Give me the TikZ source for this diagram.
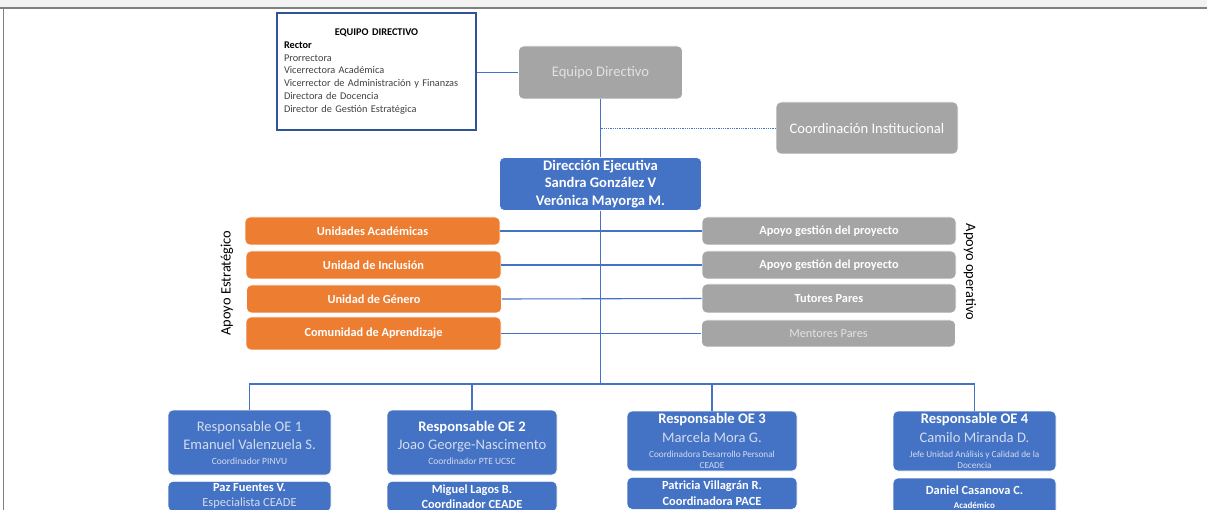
\documentclass[tikz,border=0pt]{standalone}
\usepackage{fontspec}
\setmainfont{Carlito}
\definecolor{bluebox}{HTML}{4472C4}
\definecolor{orangebox}{HTML}{ED7D31}
\definecolor{graybox}{HTML}{A5A5A5}
\definecolor{bandgray}{HTML}{F2F2F2}
\definecolor{framegray}{HTML}{808080}
\definecolor{edgeblue}{HTML}{2F5597}
\definecolor{lighttext}{HTML}{D3DCEE}
\definecolor{palegray}{HTML}{E2E2E2}
\definecolor{bodytext}{HTML}{404040}
\begin{document}
\begin{tikzpicture}[x=1pt,y=-1pt,
  box/.style={rounded corners=5pt, draw=white, line width=0.6pt, align=center, inner sep=1pt, text=white},
  bluenode/.style={box, fill=bluebox},
  orangenode/.style={box, fill=orangebox, font=\bfseries\fontsize{12.3}{14}\selectfont, minimum width=255pt},
  graynode/.style={box, fill=graybox},
  sidegray/.style={graynode, font=\bfseries\fontsize{12.3}{14}\selectfont, minimum width=254pt},
  conn/.style={draw=bluebox, line width=1.1pt},
  sidelabel/.style={font=\fontsize{14.4}{16}\selectfont, text=black}
]
\useasboundingbox (0,0) rectangle (1207,510);
\clip (0,0) rectangle (1207,510);
\fill[bandgray] (0,0) rectangle (1207,8);
\draw[framegray, line width=2pt] (0,8.5) -- (1207,8.5);
\draw[framegray, line width=1.5pt] (3.5,9.5) -- (3.5,510);

% Equipo directivo list box
\node[draw=edgeblue, line width=1.2pt, minimum width=199pt, minimum height=117pt,
      text width=185pt, align=left, inner sep=0pt, text=bodytext,
      font=\fontsize{10.3}{12.8}\selectfont] (eqbox) at (376.5,71.5)
  {\makebox[185pt][c]{\textcolor{black}{\bfseries EQUIPO DIRECTIVO}}\\
   \textcolor{black}{\bfseries Rector}\\
   Prorrectora\\
   Vicerrectora Académica\\
   Vicerrector de Administración y Finanzas\\
   Directora de Docencia\\
   Director de Gestión Estratégica};

% top nodes
\node[graynode, text=palegray, minimum width=164pt, minimum height=53pt,
      font=\fontsize{14.6}{17}\selectfont] (ed) at (600.5,72.5) {Equipo Directivo};
\node[graynode, minimum width=182pt, minimum height=52pt,
      font=\fontsize{14.6}{17}\selectfont] (ci) at (867,128) {Coordinación Institucional};
\node[bluenode, minimum width=202pt, minimum height=53pt,
      font=\bfseries\fontsize{14.6}{17.5}\selectfont] (dir) at (600.5,184)
  {Dirección Ejecutiva\\Sandra González V\\Verónica Mayorga M.};

% strategic support
\node[orangenode, minimum height=28pt] (ua) at (372.5,231) {Unidades Académicas};
\node[orangenode, minimum height=28pt] (ui) at (373.5,265) {Unidad de Inclusión};
\node[orangenode, minimum height=28pt] (ug) at (374,299) {Unidad de Género};
\node[orangenode, minimum height=33pt] (ca) at (373.5,333.5) {Comunidad de Aprendizaje};

% operative support
\node[sidegray, minimum height=28pt] (ag1) at (829,231) {Apoyo gestión del proyecto};
\node[sidegray, minimum height=28pt] (ag2) at (829,265) {Apoyo gestión del proyecto};
\node[sidegray, minimum height=29pt] (tp) at (829,298.5) {Tutores Pares};
\node[graynode, text=palegray, minimum width=254pt, minimum height=27pt,
      font=\fontsize{12.3}{14}\selectfont] (mp) at (828.5,333.5) {Mentores Pares};

\node[sidelabel, rotate=90] (lblE) at (227,283) {Apoyo Estratégico};
\node[sidelabel, rotate=-90] (lblO) at (970,272) {Apoyo operativo};

% responsables
\node[bluenode, minimum width=163pt, minimum height=65pt,
      font=\fontsize{14.6}{18}\selectfont] (oe1) at (249.5,442.5)
  {\textcolor{lighttext}{Responsable OE 1}\\
   \textcolor{lighttext}{Emanuel Valenzuela S.}\\[-3pt]
   {\fontsize{9.5}{10}\selectfont\textcolor{lighttext}{Coordinador PINVU}}};
\node[bluenode, minimum width=170pt, minimum height=65pt,
      font=\fontsize{14.6}{18}\selectfont] (oe2) at (472,442.5)
  {{\bfseries Responsable OE 2}\\
   \textcolor{lighttext}{Joao George-Nascimento}\\[-3pt]
   {\fontsize{9.5}{10}\selectfont\textcolor{lighttext}{Coordinador PTE UCSC}}};
\node[bluenode, minimum width=170pt, minimum height=60pt,
      font=\fontsize{14.6}{19}\selectfont] (oe3) at (712,441)
  {{\bfseries Responsable OE 3}\\
   \textcolor{lighttext}{Marcela Mora G.}\\[-4pt]
   {\fontsize{9.2}{10}\selectfont\textcolor{lighttext}{Coordinadora Desarrollo Personal}}\\[-8pt]
   {\fontsize{9.2}{10}\selectfont\textcolor{lighttext}{CEADE}}};
\node[bluenode, minimum width=163pt, minimum height=60pt,
      font=\fontsize{14.6}{19}\selectfont] (oe4) at (974.5,441)
  {{\bfseries Responsable OE 4}\\
   \textcolor{lighttext}{Camilo Miranda D.}\\[-4pt]
   {\fontsize{9.2}{10}\selectfont\textcolor{lighttext}{Jefe Unidad Análisis y Calidad de la}}\\[-8pt]
   {\fontsize{9.2}{10}\selectfont\textcolor{lighttext}{Docencia}}};

% second row
\node[bluenode, minimum width=163pt, minimum height=30pt, anchor=north,
      font=\fontsize{12.4}{15}\selectfont] (p1) at (249.5,481)
  {{\bfseries Paz Fuentes V.}\\\textcolor{lighttext}{Especialista CEADE}};
\node[bluenode, minimum width=170pt, minimum height=30pt, anchor=north,
      font=\bfseries\fontsize{12.4}{15}\selectfont] (p2) at (472,481)
  {Miguel Lagos B.\\Coordinador CEADE};
\node[bluenode, minimum width=170pt, minimum height=32pt, anchor=north,
      font=\bfseries\fontsize{12.4}{15.5}\selectfont] (p3) at (712,477)
  {Patricia Villagrán R.\\Coordinadora PACE};
\node[bluenode, minimum width=163pt, minimum height=38pt,
      font=\bfseries\fontsize{12.4}{14}\selectfont] (p4) at (974.5,497)
  {Daniel Casanova C.\\{\fontsize{9}{10}\selectfont Académico}};

% connectors
\coordinate (hub) at (600.5,384);
\coordinate (dj) at (600.5,128);
\draw[conn] (eqbox.east |- ed.west) -- (ed.west);
\draw[conn] (ed.south) -- (dir.north);
\draw[conn] (dir.south) -- (hub);
\draw[conn, line width=0.8pt, densely dotted] (dj) -- (ci.west);
\draw[conn] (ua.east) -- (ag1.west);
\draw[conn] (ui.east) -- (ag2.west);
\draw[conn] (ug.east) -- (tp.west);
\draw[conn] (ca.east) -- (mp.west);
\draw[conn] (oe1.north) |- (hub) -| (oe4.north);
\draw[conn] (oe2.north) -- (oe2.north |- hub);
\draw[conn] (oe3.north) -- (oe3.north |- hub);
\end{tikzpicture}
\end{document}
